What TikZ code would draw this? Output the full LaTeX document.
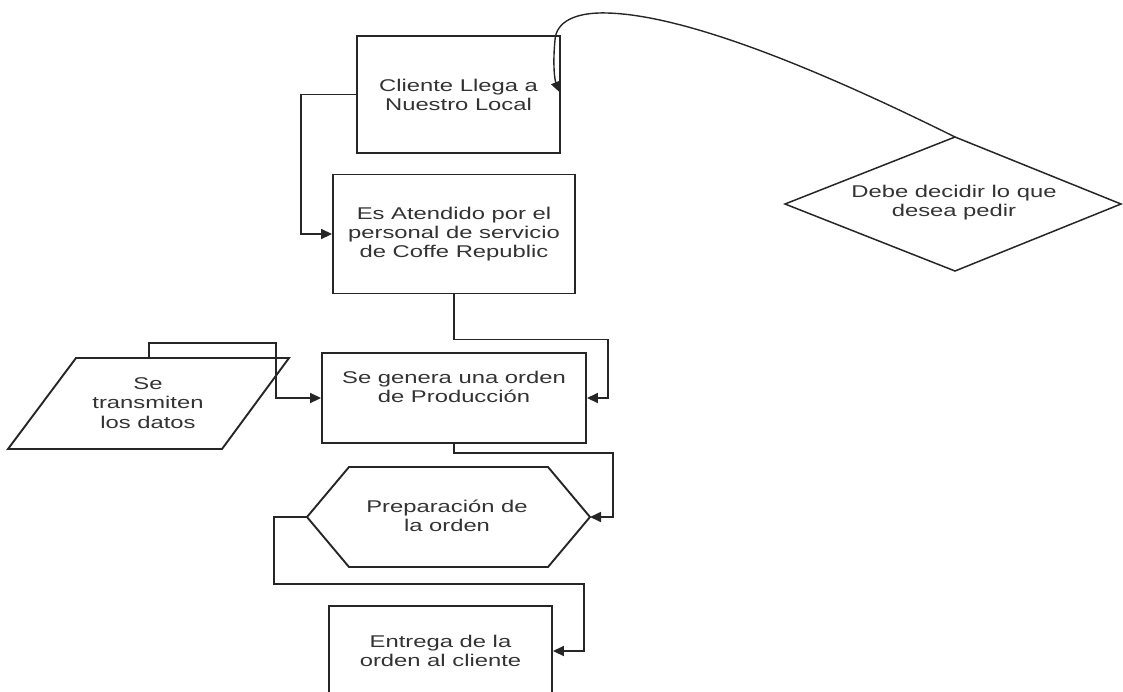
\documentclass[tikz,border=0pt]{standalone}
\usepackage{fontspec}
\setmainfont[FakeStretch=1.4]{Liberation Sans}
\usetikzlibrary{arrows.meta,calc}
\begin{document}
\begin{tikzpicture}[x=1pt,y=-1pt,
  shapeline/.style={draw=black!85, line width=1.9pt, line join=miter},
  boxnode/.style={shapeline, rectangle, inner sep=0pt},
  lbl/.style={text=black!80, font=\fontsize{17}{19}\selectfont, align=center, inner sep=0pt},
  conn/.style={draw=black!85, line width=1.7pt, line join=miter, -{Triangle[length=11pt,width=10pt]}}]
\useasboundingbox (0,0) rectangle (1123,691);
\clip (0,0) rectangle (1123,691);

% rectangles
\node[boxnode, minimum width=203pt, minimum height=117pt, lbl] (b1) at (458.5,94.5) {Cliente Llega a\\Nuestro Local};
\node[boxnode, minimum width=242pt, minimum height=119pt, lbl] (b2) at (454,234) {Es Atendido por el\\personal de servicio\\de Coffe Republic};
\node[boxnode, minimum width=264pt, minimum height=90pt] (b3) at (454,398) {};
\node[lbl] (b3t) at (454,387) {Se genera una orden\\de Producción};
\node[boxnode, minimum width=223pt, minimum height=90pt, lbl] (b5) at (440.5,651) {Entrega de la\\orden al cliente};

% parallelogram
\coordinate (p1) at (76,358);
\coordinate (p2) at (289,358);
\coordinate (p3) at (222,449);
\coordinate (p4) at (8,449);
\coordinate (ptop) at (149,358);
\draw[shapeline] (p1) -- (p2) -- (p3) -- (p4) -- cycle;
\node[lbl, font=\fontsize{17}{19.5}\selectfont] (pt) at (148,403) {Se\\transmiten\\los datos};

% hexagon
\coordinate (hL) at (307,517);
\coordinate (h1) at (349,467);
\coordinate (h2) at (548,467);
\coordinate (hR) at (590,517);
\coordinate (h3) at (548,567);
\coordinate (h4) at (349,567);
\draw[shapeline] (hL) -- (h1) -- (h2) -- (hR) -- (h3) -- (h4) -- cycle;
\node[lbl] (ht) at (447,516) {Preparación de\\la orden};

% diamond
\coordinate (dT) at (955,137);
\coordinate (dR) at (1121,204);
\coordinate (dB) at (955,271);
\coordinate (dL) at (785,204);
\draw[draw=black!85, line width=1.5pt] (dT) -- (dR) -- (dB) -- (dL) -- cycle;
\node[lbl] (dt) at (954,203) {Debe decidir lo que\\desea pedir};

% connectors
\draw[conn] (b1.west) -- ++(-55,0) |- (b2.west);
\draw[conn] (b2.south) -- ++(0,45) -| ($(b3.east)+(21,0)$) -- (b3.east);
\draw[conn] (ptop) -- ++(0,-15) -| ($(b3.west)+(-45,0)$) -- (b3.west);
\draw[conn] (b3.south) -- ++(0,9) -| ($(hR)+(23,0)$) -- (hR);
\draw[conn] (hL) -- ++(-33,0) -- ++(0,67) -| ($(b5.east)+(31,0)$) -- (b5.east);
\draw[conn, line width=1.4pt] (dT) .. controls (830,75) and (690,15) .. (607,13)
  .. controls (575,12) and (556,22) .. (555,40)
  .. controls (553,60) and (554,78) .. ($(b1.east)+(-1,-2)$);
\end{tikzpicture}
\end{document}
